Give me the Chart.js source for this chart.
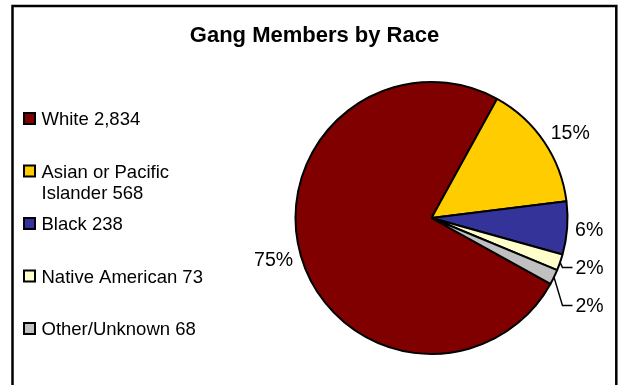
<!DOCTYPE html>
<html>
<head>
<meta charset="utf-8">
<script src="https://cdn.jsdelivr.net/npm/chart.js@4/dist/chart.umd.min.js"></script>
<style>
    html, body { margin: 0; padding: 0; background: #fff; }
    #wrap { width: 619px; height: 385px; }
</style>
</head>
<body>
<div id="wrap"><canvas id="race-chart" width="619" height="385"></canvas></div>
<script>
const chartTitle = 'Gang Members by Race';
const categories = ['White', 'Asian or Pacific Islander', 'Black', 'Native American', 'Other/Unknown'];
const members = [2834, 568, 238, 73, 68];
const sliceColors = ['#800000', '#FFCC00', '#333399', '#FFFFCC', '#C0C0C0'];

const FONT = "'Liberation Sans', Arial, sans-serif";
const total = members.reduce((a, b) => a + b, 0);

// outer frame, open at the bottom like the original
const framePlugin = {
    id: 'frame',
    beforeDraw(chart) {
        const ctx = chart.ctx;
        ctx.save();
        ctx.fillStyle = '#fff';
        ctx.fillRect(0, 0, chart.width, chart.height);
        ctx.strokeStyle = '#000';
        ctx.lineWidth = 2.5;
        ctx.beginPath();
        ctx.moveTo(12.5, chart.height + 5);
        ctx.lineTo(12.5, 6);
        ctx.lineTo(616.3, 6);
        ctx.lineTo(616.3, chart.height + 5);
        ctx.stroke();

        ctx.fillStyle = '#000';
        ctx.font = 'bold 22px ' + FONT;
        ctx.textAlign = 'center';
        ctx.textBaseline = 'alphabetic';
        ctx.fillText(chartTitle, 314.5, 42);
        ctx.restore();
    }
};

function wrapText(ctx, text, maxWidth) {
    const words = text.split(' ');
    const lines = [];
    let line = '';
    words.forEach(w => {
        const test = line ? line + ' ' + w : w;
        if (line && ctx.measureText(test).width > maxWidth) {
            lines.push(line);
            line = w;
        } else {
            line = test;
        }
    });
    if (line) lines.push(line);
    return lines;
}

const legendPlugin = {
    id: 'sideLegend',
    afterDraw(chart) {
        const ctx = chart.ctx;
        ctx.save();
        ctx.font = '18.5px ' + FONT;
        ctx.textAlign = 'left';
        ctx.textBaseline = 'alphabetic';
        let baseline = 125;
        categories.forEach((cat, i) => {
            const text = cat + ' ' + members[i].toLocaleString('en-US');
            const lines = wrapText(ctx, text, 172);
            ctx.fillStyle = sliceColors[i];
            ctx.fillRect(24, baseline - 12, 11, 11);
            ctx.strokeStyle = '#000';
            ctx.lineWidth = 2;
            ctx.strokeRect(24, baseline - 12, 11, 11);
            ctx.fillStyle = '#000';
            lines.forEach((ln, k) => ctx.fillText(ln, 41.5, baseline + k * 21.6));
            baseline += 52.5;
        });
        ctx.restore();
    }
};

const percentPlugin = {
    id: 'percentLabels',
    afterDatasetsDraw(chart) {
        const ctx = chart.ctx;
        const meta = chart.getDatasetMeta(0);
        const items = meta.data.map((arc, i) => {
            const p = arc.getProps(['x', 'y', 'startAngle', 'endAngle', 'outerRadius'], true);
            const mid = (p.startAngle + p.endAngle) / 2;
            const cos = Math.cos(mid), sin = Math.sin(mid);
            const small = members[i] / total < 0.03;
            let lx = p.x + cos * (p.outerRadius + 8);
            if (small) lx = p.x + p.outerRadius + 8;
            const ly = p.y + sin * (p.outerRadius + 8) + sin * 8;
            return {
                i, lx, ly, small,
                right: cos >= 0,
                ex: p.x + cos * p.outerRadius,
                ey: p.y + sin * p.outerRadius
            };
        });

        // push right-hand labels apart so they don't collide
        const rightSide = items.filter(it => it.right).sort((a, b) => a.ly - b.ly);
        for (let k = 1; k < rightSide.length; k++) {
            rightSide[k].ly = Math.max(rightSide[k].ly, rightSide[k - 1].ly + 38);
        }

        ctx.save();
        ctx.font = '19.5px ' + FONT;
        ctx.textBaseline = 'middle';
        ctx.fillStyle = '#000';
        ctx.strokeStyle = '#000';
        ctx.lineWidth = 1.5;
        items.forEach(it => {
            const txt = Math.round(members[it.i] / total * 100) + '%';
            if (it.small) {
                ctx.beginPath();
                ctx.moveTo(it.ex, it.ey);
                ctx.lineTo(it.lx - 13, it.ly);
                ctx.lineTo(it.lx - 3, it.ly);
                ctx.stroke();
            }
            ctx.textAlign = it.right ? 'left' : 'right';
            ctx.fillText(txt, it.lx, it.ly + 1);
        });
        ctx.restore();
    }
};

new Chart(document.getElementById('race-chart'), {
    type: 'pie',
    data: {
        labels: categories,
        datasets: [{
            data: members,
            backgroundColor: sliceColors,
            borderColor: '#000',
            borderWidth: 2
        }]
    },
    options: {
        responsive: false,
        animation: false,
        devicePixelRatio: 1,
        events: [],
        rotation: 119,
        radius: 136,
        layout: {
            padding: { left: 250, right: 6, top: 60, bottom: 9 }
        },
        plugins: {
            legend: { display: false },
            title: { display: false },
            tooltip: { enabled: false }
        }
    },
    plugins: [framePlugin, legendPlugin, percentPlugin]
});
</script>
</body>
</html>
